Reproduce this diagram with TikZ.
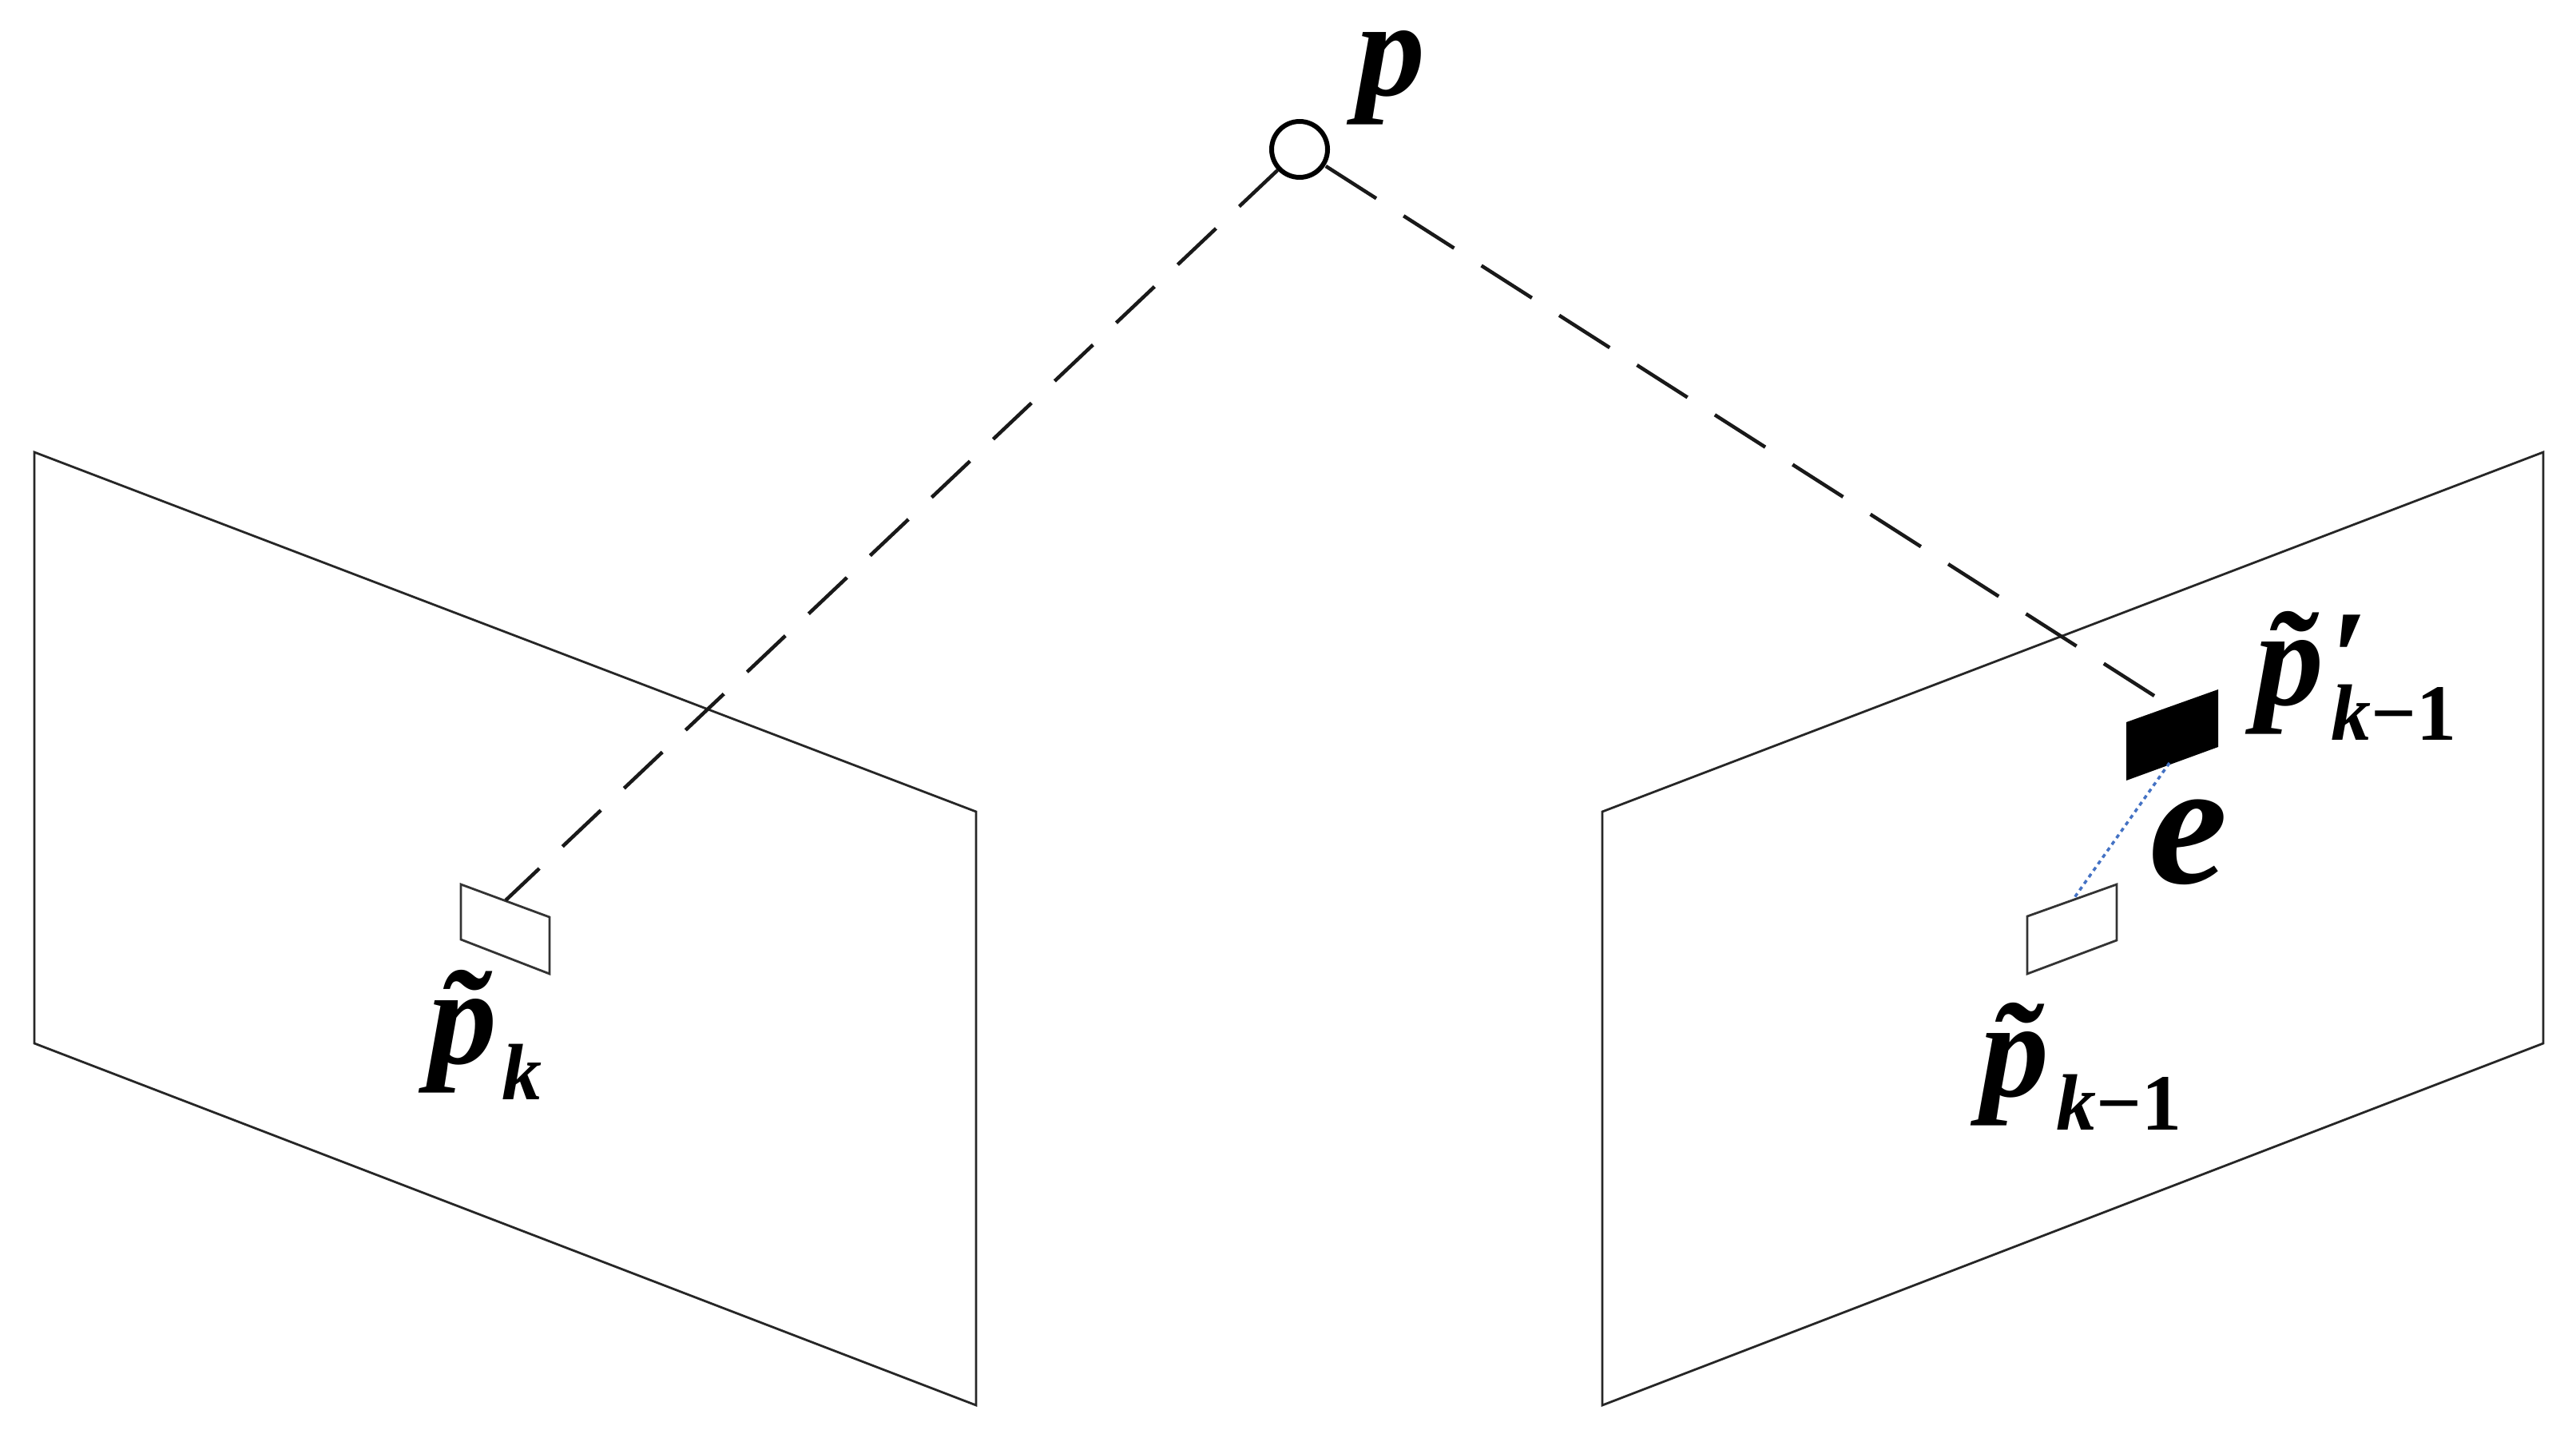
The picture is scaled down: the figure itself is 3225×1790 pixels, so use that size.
\documentclass[tikz,border=0pt]{standalone}
\usepackage{fontspec}
\setmainfont{Liberation Serif}
\definecolor{errblue}{HTML}{4472C4}
\begin{document}
\begin{tikzpicture}[x=1pt,y=-1pt,
  plane/.style={draw=black!85,line width=2.8pt,line join=miter},
  patch/.style={draw=black!80,line width=2.8pt,fill=white},
  rayL/.style={draw=black!90,line width=4.5pt,dash pattern=on 66pt off 40pt},
  rayR/.style={draw=black!90,line width=4.5pt,dash pattern=on 75pt off 40.6pt},
  err/.style={draw=errblue,line width=3.5pt,dash pattern=on 5pt off 5pt},
  lab/.style={inner sep=0pt,outer sep=0pt,anchor=base west,text=black},
  big/.style={lab,font=\fontsize{172}{172}\selectfont\bfseries\itshape},
  sub/.style={lab,font=\fontsize{100}{100}\selectfont\bfseries\itshape}]
\useasboundingbox (0,0) rectangle (3225,1790);
\fill[white] (0,0) rectangle (3225,1790);
% image planes
\draw[plane] (43,566) -- (1222,1016) -- (1222,1759) -- (43,1306) -- cycle;
\draw[plane] (3184,566) -- (2006,1016) -- (2006,1759) -- (3184,1306) -- cycle;
% patches
\draw[patch] (577,1107) -- (688,1148) -- (688,1219) -- (577,1176) -- cycle;
\draw[patch] (2538,1147) -- (2650,1107) -- (2650,1177) -- (2538,1219) -- cycle;
\fill[black] (2662,904) -- (2777,863) -- (2777,935) -- (2662,977) -- cycle;
% anchors of the connectors
\node[circle,draw=black,line width=6pt,fill=white,minimum size=70pt,inner sep=0pt] (P) at (1627,187) {};
\coordinate (Lend) at (633,1127);
\coordinate (Rend) at (2697,871);
\coordinate (Etop) at (2716,955);
\coordinate (Ebot) at (2596,1125);
\draw[rayL] (P) -- (Lend);
\draw[rayR] (Rend) -- (P);
\draw[err] (Etop) -- (Ebot);
% labels
\node[big] (lp) at (1698,120) {p};
\node[big] (lpk) at (536,1331) {\~{p}};
\node[sub] (lk) at (628,1376) {k};
\node[big] (lpm) at (2479,1372) {\~{p}};
\node[sub] (lm) at (2574,1414) {k\textup{−1}};
\node[big] (lpp) at (2823,882) {\~{p}};
\node[big] (lprime) at (2918,882) {\textup{′}};
\node[sub] (lpsub) at (2918,926) {k\textup{−1}};
\node[lab,font=\fontsize{222}{222}\selectfont\bfseries\itshape] (le) at (2690,1105) {e};
\end{tikzpicture}
\end{document}
